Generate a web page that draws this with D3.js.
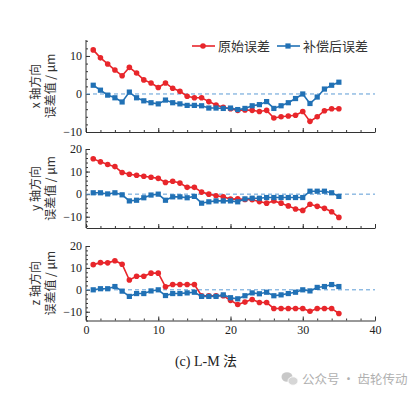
<!DOCTYPE html>
<html>
<head>
  <meta charset="utf-8">
  <style type="text/css">
    body { margin: 0; background: #fff; }
    svg { display: block; font-family: "Liberation Serif", "Times New Roman", serif; }
    .cjk { font-family: "Noto Sans CJK SC", sans-serif; }
  </style>
</head>
<body>
<svg id="vis" width="414" height="396"></svg>

<script src="https://cdnjs.cloudflare.com/ajax/libs/d3/7.8.5/d3.min.js"></script>
<script type="text/javascript">

  // measurement point index
  var points = d3.range(1, 36);

  // x direction (μm)
  var xRaw  = [11.6, 9.5, 7.9, 6.3, 4.8, 7.0, 5.5, 3.7, 2.9, 1.7, 2.9, 1.5, 0.7, -0.6, -1.0, -1.0, -2.0, -2.9, -3.5, -3.9,
               -4.3, -4.2, -4.3, -4.6, -4.3, -6.3, -6.0, -5.8, -5.6, -4.6, -7.2, -6.0, -4.4, -3.9, -3.9];
  var xComp = [2.3, 1.0, -0.3, -1.0, -2.1, 0.5, -1.0, -1.8, -2.3, -2.6, -1.6, -2.3, -2.6, -3.0, -3.0, -3.1, -3.7, -3.7, -3.8, -3.7,
               -4.1, -3.8, -3.1, -2.8, -2.0, -3.8, -3.1, -2.3, -1.2, 0.0, -2.5, -0.8, 1.3, 2.3, 3.1];

  // y direction (μm)
  var yRaw  = [15.7, 14.3, 13.1, 12.2, 9.6, 8.8, 8.4, 7.9, 7.5, 7.0, 5.2, 5.7, 4.9, 3.0, 3.0, 0.9, 0.0, -0.7, -1.2, -2.2,
               -2.1, -2.4, -2.5, -3.3, -4.0, -3.0, -4.0, -5.2, -6.6, -7.2, -4.5, -5.4, -6.3, -7.8, -10.3];
  var yComp = [0.6, 0.6, 0.1, 0.6, -0.3, -3.0, -2.7, -1.6, -0.4, 0.0, -2.7, -1.2, -1.2, -1.6, -1.0, -4.0, -3.4, -3.0, -3.0, -3.0,
               -3.4, -2.1, -1.8, -1.8, -1.5, -1.5, -1.5, -1.5, -1.5, -1.5, 1.3, 1.3, 1.3, 0.6, -1.0];

  // z direction (μm)
  var zRaw  = [11.5, 12.4, 12.3, 13.3, 11.7, 4.5, 6.2, 6.2, 7.6, 7.6, 1.4, 2.4, 2.4, 2.4, 2.4, -2.7, -2.7, -2.7, -2.7, -4.8,
               -6.7, -5.6, -4.4, -5.8, -5.8, -8.5, -8.5, -8.5, -8.5, -8.5, -9.8, -8.5, -8.5, -8.5, -10.8];
  var zComp = [0.0, 0.5, 0.5, 1.5, -0.6, -3.0, -1.7, -1.7, -0.5, 0.0, -2.6, -1.7, -1.7, -1.4, -1.1, -3.0, -3.0, -3.0, -2.3, -3.6,
               -4.1, -2.7, -1.4, -1.8, -1.1, -2.7, -2.3, -1.7, -1.1, 0.0, -0.5, 1.1, 1.5, 2.4, 1.5];

  var seriesNames = ['原始误差', '补偿后误差'];
  var xTicks = [0, 10, 20, 30, 40];

  var red = '#e8262b', blue = '#2171b5', axisCol = '#333';

  var panels = [
    { label: 'x 轴方向', raw: xRaw, comp: xComp, domain: [-10, 14.2], top: 40, bottom: 132, ticks: [-10, 0, 10], minorFrom: -10 },
    { label: 'y 轴方向', raw: yRaw, comp: yComp, domain: [-15, 20], top: 149, bottom: 228, ticks: [-10, 0, 10, 20], minorFrom: -14 },
    { label: 'z 轴方向', raw: zRaw, comp: zComp, domain: [-14, 20], top: 246, bottom: 320.5, ticks: [-10, 0, 10, 20], minorFrom: -14 }
  ];

  var svg = d3.select('#vis');
  var xScale = d3.scaleLinear().domain([0, 40]).range([86, 375]);

  panels.forEach(function(p, pi) {
    var yScale = d3.scaleLinear().domain(p.domain).range([p.bottom, p.top]);
    var g = svg.append('g');

    // minor ticks every 2 units
    var minorY = d3.range(p.minorFrom, p.domain[1] + 0.01, 2);
    g.append('g')
      .attr('transform', 'translate(86,0)')
      .call(d3.axisLeft(yScale).tickValues(minorY).tickSize(-2).tickFormat('').tickSizeOuter(0))
      .call(function(s) { s.select('.domain').remove(); });

    var yAx = g.append('g')
      .attr('transform', 'translate(86,0)')
      .call(d3.axisLeft(yScale).tickValues(p.ticks).tickSize(-4).tickSizeOuter(0).tickPadding(4)
        .tickFormat(function(d) { return d < 0 ? '\u2212' + (-d) : d; }));

    g.append('g')
      .attr('transform', 'translate(0,' + p.bottom + ')')
      .call(d3.axisBottom(xScale).tickValues(d3.range(0, 41, 2)).tickSize(-2).tickFormat('').tickSizeOuter(0))
      .call(function(s) { s.select('.domain').remove(); });

    var xAx = g.append('g')
      .attr('transform', 'translate(0,' + p.bottom + ')')
      .call(d3.axisBottom(xScale).tickValues(xTicks).tickSize(-4).tickSizeOuter(0).tickPadding(5)
        .tickFormat(pi === 2 ? d3.format('d') : ''));

    [yAx, xAx].forEach(function(a) {
      a.select('.domain').attr('stroke', axisCol);
      a.selectAll('line').attr('stroke', axisCol);
      a.selectAll('text').attr('fill', '#222').style('font-size', '12px')
        .style('font-family', '"Liberation Serif", serif');
    });
    g.selectAll('.tick line').attr('stroke', axisCol);
    // left axis line starts at the top
    yAx.select('.domain').attr('d', 'M0,' + p.top + 'V' + p.bottom);

    // zero reference
    g.append('line')
      .attr('x1', xScale(0)).attr('x2', xScale(40))
      .attr('y1', yScale(0)).attr('y2', yScale(0))
      .attr('stroke', '#5b9bd5').attr('stroke-width', 1)
      .attr('stroke-dasharray', '4,3');

    var line = d3.line()
      .x(function(d, i) { return xScale(points[i]); })
      .y(function(d) { return yScale(d); });

    g.append('path').datum(p.raw)
      .attr('d', line).attr('fill', 'none')
      .attr('stroke', red).attr('stroke-width', 1.6);
    g.selectAll('.rdot').data(p.raw).enter().append('circle')
      .attr('cx', function(d, i) { return xScale(points[i]); })
      .attr('cy', function(d) { return yScale(d); })
      .attr('r', 2.8).attr('fill', red);

    g.append('path').datum(p.comp)
      .attr('d', line).attr('fill', 'none')
      .attr('stroke', blue).attr('stroke-width', 1.6);
    g.selectAll('.bsq').data(p.comp).enter().append('rect')
      .attr('x', function(d, i) { return xScale(points[i]) - 2.6; })
      .attr('y', function(d) { return yScale(d) - 2.6; })
      .attr('width', 5.2).attr('height', 5.2).attr('fill', blue);

    // rotated y label, two lines
    var cy = (p.top + p.bottom) / 2;
    var lab = g.append('text')
      .attr('class', 'cjk')
      .attr('transform', 'translate(40,' + cy + ') rotate(-90)')
      .attr('text-anchor', 'middle')
      .attr('fill', '#333')
      .style('font-size', '12px');
    lab.append('tspan').attr('x', 0).attr('dy', 0).text(p.label);
    lab.append('tspan').attr('x', 0).attr('dy', 15).text('误差值 / μm');
  });

  // legend
  var leg = svg.append('g').attr('class', 'cjk').style('font-size', '13px');
  leg.append('line').attr('x1', 192).attr('x2', 215).attr('y1', 46).attr('y2', 46)
    .attr('stroke', red).attr('stroke-width', 1.6);
  leg.append('circle').attr('cx', 203).attr('cy', 46).attr('r', 2.8).attr('fill', red);
  leg.append('text').attr('x', 218).attr('y', 50.5).attr('fill', '#333').text(seriesNames[0]);
  leg.append('line').attr('x1', 277).attr('x2', 300).attr('y1', 46).attr('y2', 46)
    .attr('stroke', blue).attr('stroke-width', 1.6);
  leg.append('rect').attr('x', 285.4).attr('y', 43.4).attr('width', 5.2).attr('height', 5.2).attr('fill', blue);
  leg.append('text').attr('x', 303).attr('y', 50.5).attr('fill', '#333').text(seriesNames[1]);

  // caption
  svg.append('text')
    .attr('x', 206).attr('y', 366)
    .attr('text-anchor', 'middle')
    .attr('fill', '#222')
    .style('font-size', '14px')
    .html('(c) L-M <tspan style="font-family:\'Noto Sans CJK SC\'">法</tspan>');

  // watermark
  var wm = svg.append('g');
  wm.append('ellipse').attr('cx', 287).attr('cy', 377).attr('rx', 5.5).attr('ry', 4.8).attr('fill', '#c8c8c8');
  wm.append('ellipse').attr('cx', 293).attr('cy', 381).attr('rx', 5).attr('ry', 4.2).attr('fill', '#d6d6d6')
    .attr('stroke', '#fff').attr('stroke-width', 0.8);
  wm.append('text').attr('class', 'cjk')
    .attr('x', 302).attr('y', 384)
    .attr('fill', '#b0b0b0')
    .style('font-size', '12.5px')
    .text('公众号 · 齿轮传动');

</script>
</body>
</html>
